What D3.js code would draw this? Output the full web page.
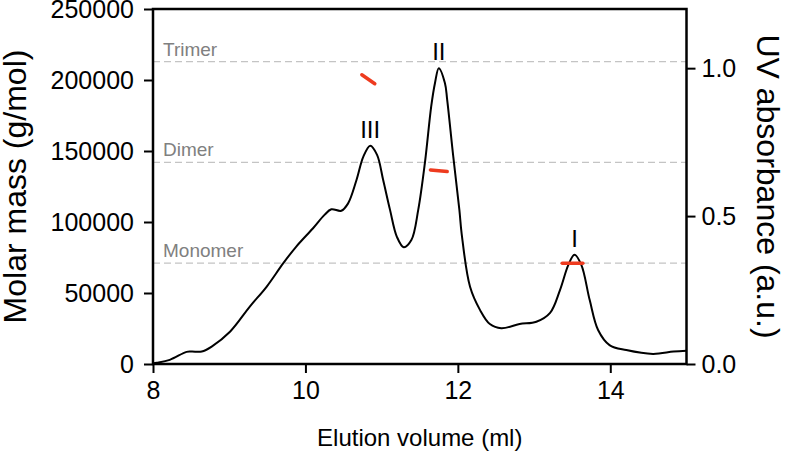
<!DOCTYPE html>
<html>
<head>
<meta charset="utf-8">
<script src="https://cdn.jsdelivr.net/npm/d3@7"></script>
<style>
	html, body { margin: 0; padding: 0; background: #fff; }
	#canvas { width: 785px; height: 453px; }
	text { font-family: 'Liberation Sans', Arial, sans-serif; }
</style>
</head>
<body>
<div id="canvas"></div>
<script>

// Data: UV trace (elution volume in ml, absorbance in a.u.)
var elution = [8.00, 8.05, 8.22, 8.44, 8.51, 8.64, 8.77, 9.01, 9.27, 9.49, 9.71, 9.88,
	10.10, 10.25, 10.34, 10.47, 10.56, 10.67, 10.76, 10.85, 10.94, 11.02, 11.11, 11.20,
	11.29, 11.39, 11.48, 11.57, 11.65, 11.70, 11.75, 11.83, 11.86, 11.94, 12.02, 12.05,
	12.16, 12.29, 12.42, 12.57, 12.81, 13.03, 13.21, 13.34, 13.45, 13.53, 13.62, 13.73,
	13.84, 13.99, 14.21, 14.56, 14.83, 15.00];
var absorbance = [0.002, 0.004, 0.014, 0.041, 0.042, 0.042, 0.059, 0.109, 0.194, 0.261, 0.341, 0.397,
	0.459, 0.504, 0.523, 0.518, 0.543, 0.622, 0.701, 0.738, 0.707, 0.622, 0.521, 0.430,
	0.395, 0.419, 0.521, 0.685, 0.870, 0.950, 1.000, 0.950, 0.893, 0.701, 0.521, 0.440,
	0.261, 0.183, 0.135, 0.121, 0.135, 0.143, 0.173, 0.250, 0.335, 0.369, 0.335, 0.216,
	0.115, 0.064, 0.047, 0.034, 0.042, 0.045];

// Measured molar mass across each peak (start / end)
var massVolumes = [[10.74, 10.91], [11.64, 11.86], [13.37, 13.64]];
var massValues = [[203700, 197400], [136700, 135500], [71000, 71000]];

// Oligomer reference lines
var oligomerNames = ['Monomer', 'Dimer', 'Trimer'];
var oligomerMasses = [71000, 142000, 213000];

// Peak labels
var peakNames = ['I', 'II', 'III'];
var peakVolumes = [13.53, 11.75, 10.85];
var peakHeights = [0.369, 1.000, 0.738];

// Ticks
var xTicks = [8, 10, 12, 14];
var massTicks = [0, 50000, 100000, 150000, 200000, 250000];
var uvTicks = [0, 0.5, 1.0];

// UI
var chartWidth = 785,
	chartHeight = 453,
	plotLeft = 153,
	plotRight = 686.5,
	plotTop = 9,
	plotBottom = 364,
	axisColor = '#000',
	refColor = '#c4c4c4',
	refTextColor = '#808080',
	massColor = '#ee3b1f';

var svg = d3.select('#canvas').append('svg')
	.attr('width', chartWidth)
	.attr('height', chartHeight);

var x = d3.scaleLinear().domain([8, 15]).range([plotLeft, plotRight]),
	yMass = d3.scaleLinear().domain([0, 250000]).range([plotBottom, plotTop]),
	yUV = d3.scaleLinear().domain([0, 1.2]).range([plotBottom, plotTop]);

// Reference dashed lines + labels
var gRef = svg.append('g');
gRef.selectAll('line')
	.data(oligomerMasses)
	.enter().append('line')
		.attr('x1', plotLeft)
		.attr('x2', plotRight)
		.attr('y1', function(d) { return yMass(d); })
		.attr('y2', function(d) { return yMass(d); })
		.attr('stroke', refColor)
		.attr('stroke-width', 1.3)
		.attr('stroke-dasharray', '7,4');
gRef.selectAll('text')
	.data(oligomerMasses)
	.enter().append('text')
		.attr('x', plotLeft + 10)
		.attr('y', function(d) { return yMass(d) - 6; })
		.attr('fill', refTextColor)
		.attr('font-size', 19)
		.text(function(d, i) { return oligomerNames[i]; });

// UV trace
var trace = elution.map(function(v, i) { return [v, absorbance[i]]; });
var line = d3.line()
	.x(function(d) { return x(d[0]); })
	.y(function(d) { return yUV(d[1]); })
	.curve(d3.curveCatmullRom.alpha(0.5));
svg.append('path')
	.datum(trace)
	.attr('d', line)
	.attr('fill', 'none')
	.attr('stroke', '#000')
	.attr('stroke-width', 2);

// Molar mass segments
svg.append('g').selectAll('line')
	.data(massVolumes)
	.enter().append('line')
		.attr('x1', function(d) { return x(d[0]); })
		.attr('x2', function(d) { return x(d[1]); })
		.attr('y1', function(d, i) { return yMass(massValues[i][0]); })
		.attr('y2', function(d, i) { return yMass(massValues[i][1]); })
		.attr('stroke', massColor)
		.attr('stroke-width', 3.5)
		.attr('stroke-linecap', 'round');

// Peak labels
svg.append('g').selectAll('text')
	.data(peakNames)
	.enter().append('text')
		.attr('x', function(d, i) { return x(peakVolumes[i]); })
		.attr('y', function(d, i) { return yUV(peakHeights[i]) - 8; })
		.attr('text-anchor', 'middle')
		.attr('font-size', 24)
		.text(function(d) { return d; });

// Axes
function styleAxis(g) {
	g.selectAll('.domain').remove();
	g.selectAll('.tick line').attr('stroke', axisColor).attr('stroke-width', 2);
	g.selectAll('.tick text').attr('font-size', 25).attr('fill', '#000')
		.attr('font-family', "'Liberation Sans', Arial, sans-serif");
}

svg.append('g')
	.attr('transform', 'translate(0,' + plotBottom + ')')
	.call(d3.axisBottom(x).tickValues(xTicks).tickFormat(d3.format('d')).tickSize(9).tickPadding(8))
	.call(styleAxis);

svg.append('g')
	.attr('transform', 'translate(' + plotLeft + ',0)')
	.call(d3.axisLeft(yMass).tickValues(massTicks).tickFormat(d3.format('d')).tickSize(9).tickPadding(10))
	.call(styleAxis);

svg.append('g')
	.attr('transform', 'translate(' + plotRight + ',0)')
	.call(d3.axisRight(yUV).tickValues(uvTicks).tickFormat(d3.format('.1f')).tickSize(9).tickPadding(6))
	.call(styleAxis);

// Frame
svg.append('rect')
	.attr('x', plotLeft)
	.attr('y', plotTop)
	.attr('width', plotRight - plotLeft)
	.attr('height', plotBottom - plotTop)
	.attr('fill', 'none')
	.attr('stroke', axisColor)
	.attr('stroke-width', 2.5);

// Axis titles
svg.append('text')
	.attr('x', (plotLeft + plotRight) / 2)
	.attr('y', 446)
	.attr('text-anchor', 'middle')
	.attr('font-size', 24)
	.text('Elution volume (ml)');

svg.append('text')
	.attr('transform', 'translate(26,' + ((plotTop + plotBottom) / 2) + ') rotate(-90)')
	.attr('text-anchor', 'middle')
	.attr('font-size', 32)
	.text('Molar mass (g/mol)');

svg.append('text')
	.attr('transform', 'translate(757,' + ((plotTop + plotBottom) / 2) + ') rotate(90)')
	.attr('text-anchor', 'middle')
	.attr('font-size', 32)
	.text('UV absorbance (a.u.)');

</script>
</body>
</html>
